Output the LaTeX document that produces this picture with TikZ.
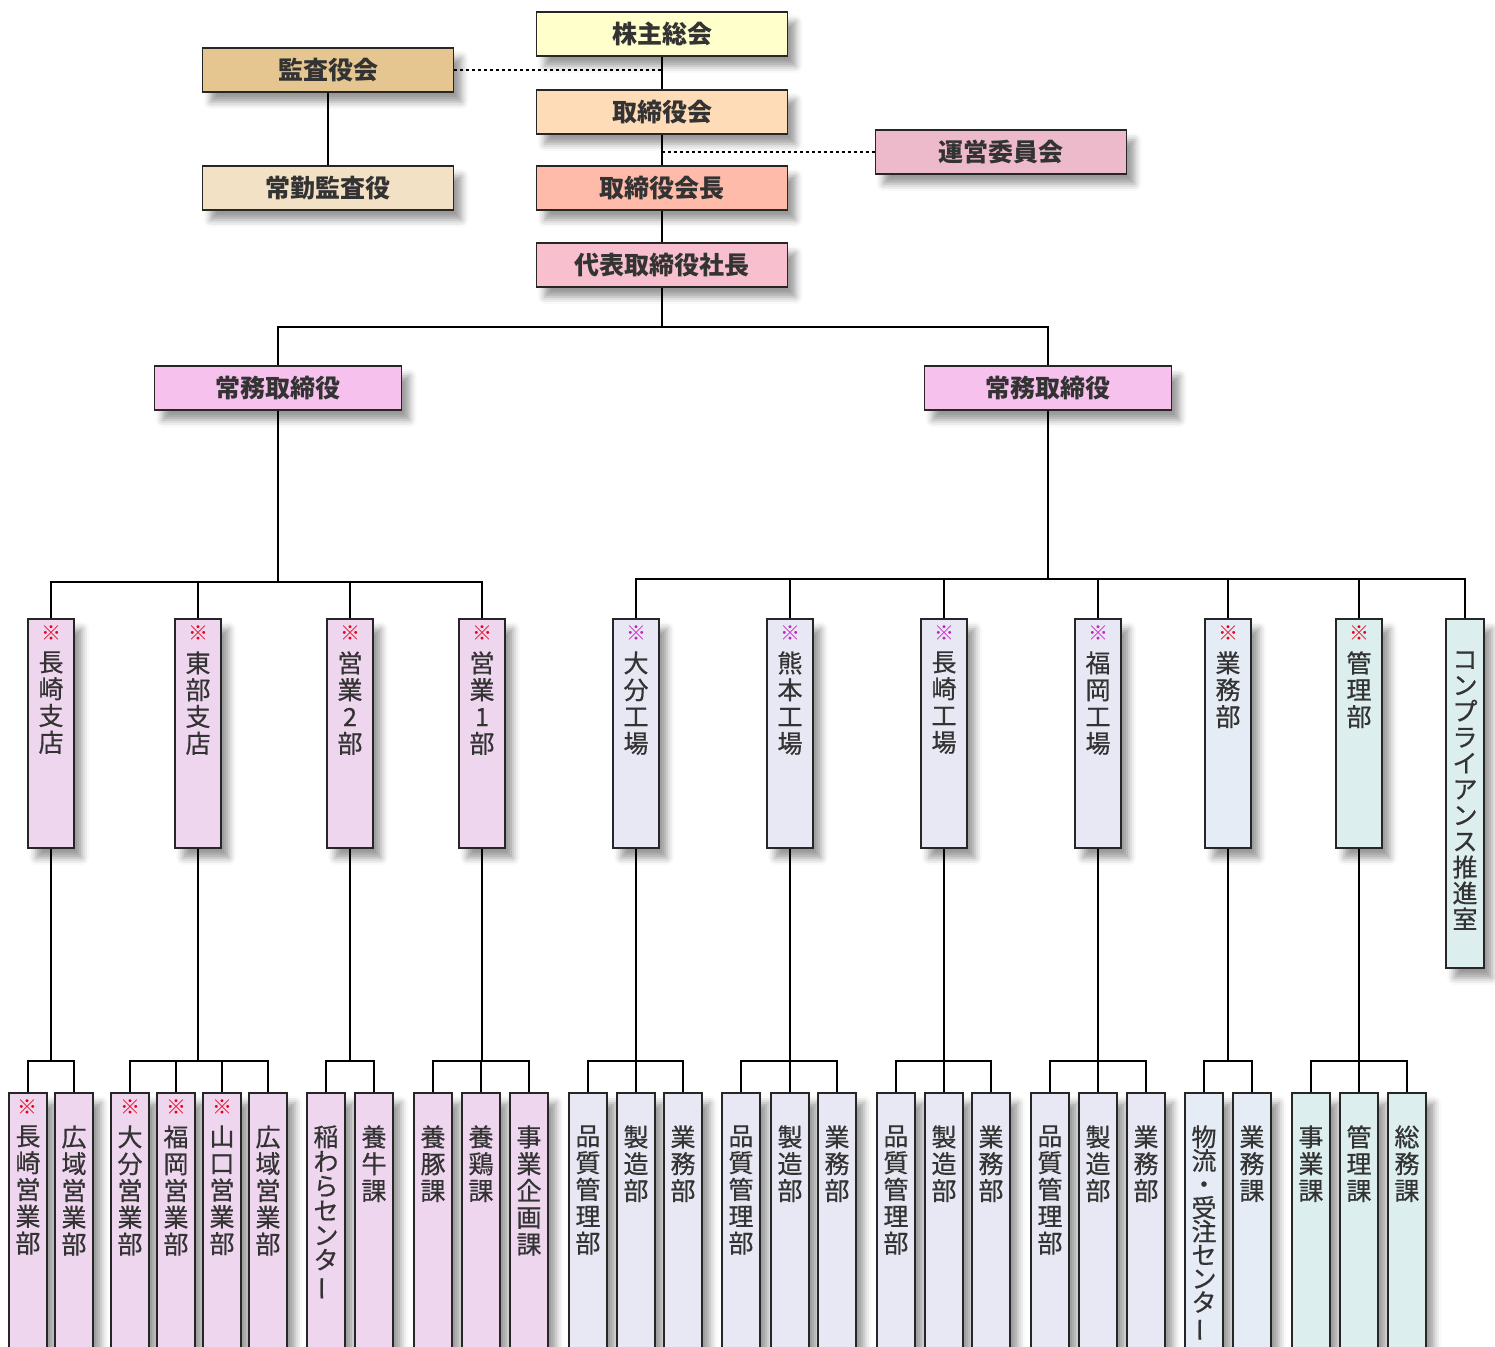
\documentclass[tikz,border=0pt]{standalone}
\usepackage{fontspec}
\usepackage{graphicx}
\usetikzlibrary{shadows.blur}
\newfontfamily\jp{Noto Sans CJK JP}
\newfontfamily\jpm{Noto Sans CJK JP}[FakeBold=0.6]

\definecolor{kabuC}{HTML}{FFFFCC}
\definecolor{kansaC}{HTML}{E5C590}
\definecolor{jokinC}{HTML}{F3E1C5}
\definecolor{toriC}{HTML}{FFDCB8}
\definecolor{kaichoC}{HTML}{FFBBAA}
\definecolor{shachoC}{HTML}{F8BFCE}
\definecolor{uneiC}{HTML}{EDBACB}
\definecolor{jomuC}{HTML}{F7C1EE}
\definecolor{salesC}{HTML}{EFD6EF}
\definecolor{kojoC}{HTML}{E8E8F5}
\definecolor{gyomuC}{HTML}{E6ECF5}
\definecolor{kanriC}{HTML}{DCEEEE}
\definecolor{mkred}{HTML}{E8001A}
\definecolor{mkpurple}{HTML}{C81EC0}

% vertical long vowel mark
\newcommand\cho{\rotatebox[origin=c]{90}{ー}}

\begin{document}
\begin{tikzpicture}[x=0.5pt, y=-0.5pt,
    base/.style={rectangle, draw=black!85, line width=0.9pt, inner sep=0pt,
                 blur shadow={shadow xshift=4pt, shadow yshift=-5pt,
                              shadow blur radius=3.5pt, shadow opacity=40}},
    top/.style={base, fill=#1, minimum width=125.5pt, minimum height=22pt,
                font=\jp\bfseries\fontsize{12.5}{14}\selectfont, text=black!80},
    col/.style={base, fill=#1, minimum width=23pt, minimum height=114.5pt, anchor=north},
    sub/.style={base, fill=#1, minimum width=19pt, minimum height=140pt, anchor=north},
    vt/.style={anchor=north, yshift=-16.5pt, inner sep=0pt, text width=13pt, align=center,
               font=\jpm\fontsize{12.5}{13.4}\selectfont, text=black!80},
    kana/.style={vt, font=\jpm\fontsize{12.5}{#1}\selectfont},
    mk/.style={label={[anchor=center, yshift=-7.5pt, inner sep=0pt, text=#1,
                       font=\jp\bfseries\fontsize{10}{10}\selectfont]north:※}},
    link/.style={draw=black, line width=0.8pt},
    dots/.style={link, dash pattern=on 1.5pt off 1.5pt}
]
    \path[use as bounding box, clip] (0,0) rectangle (1495,1347);

    % top management
    \node[top=kabuC] (kabunushi) at (662,34) {株主総会};
    \node[top=kansaC] (kansa) at (328,70) {監査役会};
    \node[top=toriC] (torishimari) at (662,112) {取締役会};
    \node[top=jokinC] (jokin) at (328,188) {常勤監査役};
    \node[top=kaichoC] (kaicho) at (662,188) {取締役会長};
    \node[top=uneiC] (unei) at (1001,152) {運営委員会};
    \node[top=shachoC] (shacho) at (662,265) {代表取締役社長};
    \node[top=jomuC, minimum width=123.5pt] (jomuA) at (278,388) {常務取締役};
    \node[top=jomuC, minimum width=123.5pt] (jomuB) at (1048,388) {常務取締役};

    \draw[link] (kabunushi) -- (torishimari);
    \draw[link] (torishimari) -- (kaicho);
    \draw[link] (kaicho) -- (shacho);
    \draw[link] (kansa) -- (jokin);
    \draw[dots] (kansa) -- (kansa -| kabunushi);
    \draw[dots] (unei) -- (unei -| torishimari);

    \coordinate (split) at (662,327);
    \draw[link] (shacho) -- (split);
    \draw[link] (split) -| (jomuA);
    \draw[link] (split) -| (jomuB);

    % departments
    \node[col=salesC, mk=mkred, label={[vt]north:長\\崎\\支\\店}] (nagasakiS) at (51,618) {};
    \node[col=salesC, mk=mkred, label={[vt]north:東\\部\\支\\店}] (tobuS) at (198,618) {};
    \node[col=salesC, mk=mkred, label={[vt]north:営\\業\\2\\部}] (eigyo2) at (350,618) {};
    \node[col=salesC, mk=mkred, label={[vt]north:営\\業\\1\\部}] (eigyo1) at (482,618) {};
    \node[col=kojoC, mk=mkpurple, label={[vt]north:大\\分\\工\\場}] (oita) at (636,618) {};
    \node[col=kojoC, mk=mkpurple, label={[vt]north:熊\\本\\工\\場}] (kumamoto) at (790,618) {};
    \node[col=kojoC, mk=mkpurple, label={[vt]north:長\\崎\\工\\場}] (nagasakiK) at (944,618) {};
    \node[col=kojoC, mk=mkpurple, label={[vt]north:福\\岡\\工\\場}] (fukuoka) at (1098,618) {};
    \node[col=gyomuC, mk=mkred, label={[vt]north:業\\務\\部}] (gyomu) at (1228,618) {};
    \node[col=kanriC, mk=mkred, label={[vt]north:管\\理\\部}] (kanri) at (1359,618) {};
    \node[col=kanriC, minimum width=19pt, minimum height=174.5pt,
          label={[kana=13]north:コ\\ン\\プ\\ラ\\イ\\ア\\ン\\ス\\推\\進\\室}] (comp) at (1465,618) {};

    \coordinate (barA) at (278,582);
    \draw[link] (jomuA) -- (barA);
    \foreach \n in {nagasakiS,tobuS,eigyo2,eigyo1}
        \draw[link] (barA) -| (\n);
    \coordinate (barB) at (1048,579);
    \draw[link] (jomuB) -- (barB);
    \foreach \n in {oita,kumamoto,nagasakiK,fukuoka,gyomu,kanri,comp}
        \draw[link] (barB) -| (\n);

    % sections
    \node[sub=salesC, mk=mkred, label={[vt]north:長\\崎\\営\\業\\部}] (nsA) at (28,1092) {};
    \node[sub=salesC, label={[vt]north:広\\域\\営\\業\\部}] (nsB) at (74,1092) {};
    \node[sub=salesC, mk=mkred, label={[vt]north:大\\分\\営\\業\\部}] (tbA) at (130,1092) {};
    \node[sub=salesC, mk=mkred, label={[vt]north:福\\岡\\営\\業\\部}] (tbB) at (176,1092) {};
    \node[sub=salesC, mk=mkred, label={[vt]north:山\\口\\営\\業\\部}] (tbC) at (222,1092) {};
    \node[sub=salesC, label={[vt]north:広\\域\\営\\業\\部}] (tbD) at (268,1092) {};
    \node[sub=salesC, label={[kana=12.3]north:稲\\わ\\ら\\セ\\ン\\タ\\\cho}] (e2A) at (326,1092) {};
    \node[sub=salesC, label={[vt]north:養\\牛\\課}] (e2B) at (374,1092) {};
    \node[sub=salesC, label={[vt]north:養\\豚\\課}] (e1A) at (433,1092) {};
    \node[sub=salesC, label={[vt]north:養\\鶏\\課}] (e1B) at (481,1092) {};
    \node[sub=salesC, label={[vt]north:事\\業\\企\\画\\課}] (e1C) at (529,1092) {};
    \node[sub=kojoC, label={[vt]north:品\\質\\管\\理\\部}] (otA) at (588,1092) {};
    \node[sub=kojoC, label={[vt]north:製\\造\\部}] (otB) at (636,1092) {};
    \node[sub=kojoC, label={[vt]north:業\\務\\部}] (otC) at (683,1092) {};
    \node[sub=kojoC, label={[vt]north:品\\質\\管\\理\\部}] (kmA) at (741,1092) {};
    \node[sub=kojoC, label={[vt]north:製\\造\\部}] (kmB) at (790,1092) {};
    \node[sub=kojoC, label={[vt]north:業\\務\\部}] (kmC) at (837,1092) {};
    \node[sub=kojoC, label={[vt]north:品\\質\\管\\理\\部}] (nkA) at (896,1092) {};
    \node[sub=kojoC, label={[vt]north:製\\造\\部}] (nkB) at (944,1092) {};
    \node[sub=kojoC, label={[vt]north:業\\務\\部}] (nkC) at (991,1092) {};
    \node[sub=kojoC, label={[vt]north:品\\質\\管\\理\\部}] (fkA) at (1050,1092) {};
    \node[sub=kojoC, label={[vt]north:製\\造\\部}] (fkB) at (1098,1092) {};
    \node[sub=kojoC, label={[vt]north:業\\務\\部}] (fkC) at (1146,1092) {};
    \node[sub=gyomuC, label={[kana=11.8]north:物\\流\\・\\受\\注\\セ\\ン\\タ\\\cho}] (gyA) at (1204,1092) {};
    \node[sub=gyomuC, label={[vt]north:業\\務\\課}] (gyB) at (1252,1092) {};
    \node[sub=kanriC, label={[vt]north:事\\業\\課}] (krA) at (1311,1092) {};
    \node[sub=kanriC, label={[vt]north:管\\理\\課}] (krB) at (1359,1092) {};
    \node[sub=kanriC, label={[vt]north:総\\務\\課}] (krC) at (1407,1092) {};

    \foreach \p/\cs in {nagasakiS/{nsA,nsB}, tobuS/{tbA,tbB,tbC,tbD}, eigyo2/{e2A,e2B},
                        eigyo1/{e1A,e1B,e1C}, oita/{otA,otB,otC}, kumamoto/{kmA,kmB,kmC},
                        nagasakiK/{nkA,nkB,nkC}, fukuoka/{fkA,fkB,fkC}, gyomu/{gyA,gyB},
                        kanri/{krA,krB,krC}} {
        \coordinate (\p-bar) at (\p |- 0,1061);
        \draw[link] (\p) -- (\p-bar);
        \foreach \c in \cs
            \draw[link] (\p-bar) -| (\c);
    }
\end{tikzpicture}
\end{document}
